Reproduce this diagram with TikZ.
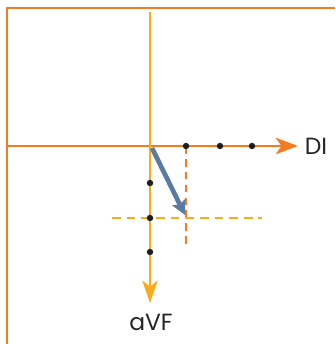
\documentclass[tikz,border=0pt]{standalone}
\usepackage{fontspec}
\setmainfont{Poppins}
\usetikzlibrary{arrows.meta}
\definecolor{leadorange}{HTML}{F47B20}
\definecolor{leadyellow}{HTML}{FBAA19}
\definecolor{axisblue}{HTML}{5B7AA0}
\definecolor{dotgray}{HTML}{1E1E1E}
\tikzset{
  frame/.style={draw=leadorange, line width=2.4pt},
  dileadaxis/.style={draw=leadorange, line width=2.2pt,
    -{Stealth[length=19pt, width=14pt, inset=5pt]}},
  avfleadaxis/.style={draw=leadyellow, line width=2.2pt,
    -{Stealth[length=19pt, width=13pt, inset=5pt]}},
  meanaxis/.style={draw=axisblue, line width=4pt,
    -{Stealth[length=12pt, width=12pt, inset=2pt]}},
  dproj/.style={draw=leadorange, line width=2.3pt, dash pattern=on 6.5pt off 4.5pt},
  vproj/.style={draw=leadyellow, line width=2.3pt, dash pattern=on 7.5pt off 5pt},
  tick/.style={circle, fill=dotgray, inner sep=0pt, minimum size=5.5pt},
  leadlabel/.style={font=\fontsize{20}{24}\selectfont, text=black!85, inner sep=0pt},
}

\begin{document}
\begin{tikzpicture}[x=0.03cm, y=-0.03cm]
  \useasboundingbox (0,0) rectangle (335,344);

  %% ---- frame ----
  \draw[frame] (7,344) -- (7,8) -- (335,8);

  %% ---- lead axes ----
  \coordinate (o)      at (150,146);
  \coordinate (ditail) at (7,146);
  \coordinate (ditip)  at (298,146);
  \coordinate (vftail) at (150,12);
  \coordinate (vftip)  at (150,303);

  \node[leadlabel] (di)  at (316,146) {DI};
  \node[leadlabel] (avf) at (151,322) {aVF};

  \draw[dileadaxis]  (ditail) -- (ditip);
  \draw[avfleadaxis] (vftail) -- (vftip);

  %% ---- projections ----
  \coordinate (dproj) at (186,146);
  \coordinate (vproj) at (150,218);
  \coordinate (dend)  at (186,248);
  \coordinate (vbeg)  at (112,218);
  \coordinate (vend)  at (262,218);
  \coordinate (mean)  at (185,215);

  \draw[dproj] (dproj) -- (dend);
  \draw[vproj] (vbeg) -- (vend);

  %% ---- ticks ----
  \node[tick] (d1) at (186,146) {};
  \node[tick] (d2) at (220,146) {};
  \node[tick] (d3) at (252,146) {};
  \node[tick] (v1) at (150,183) {};
  \node[tick] (v2) at (150,218) {};
  \node[tick] (v3) at (150,252) {};

  %% ---- mean axis ----
  \coordinate (mstart) at (152,148);
  \draw[meanaxis] (mstart) -- (mean);

\end{tikzpicture}
\end{document}
